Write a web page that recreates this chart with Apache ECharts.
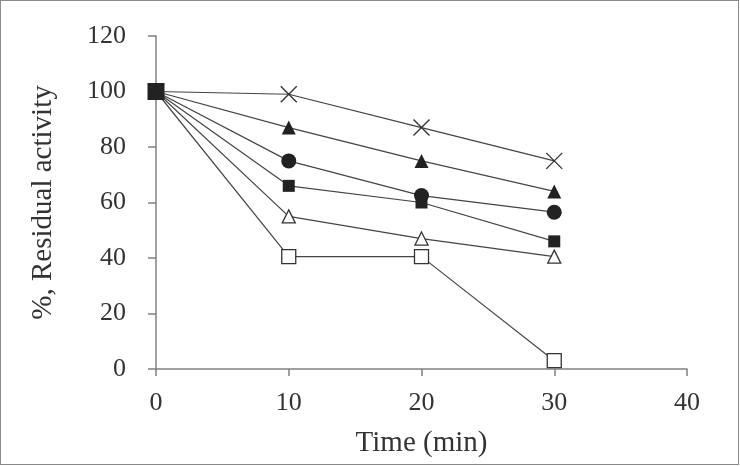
<!DOCTYPE html>
<html>
<head>
    <meta charset="utf-8">
    <title>Residual activity</title>
    <script src="https://cdn.jsdelivr.net/npm/echarts@6/dist/echarts.min.js"></script>
    <style>
        html, body { margin: 0; padding: 0; background: #fff; }
        #main { width: 737px; height: 463px; border: 1.5px solid #8a8a8a; }
    </style>
</head>
<body>
    <div id="main"></div>
    <script type="text/javascript">
        // time points (min)
        var times = [0, 10, 20, 30];
        // residual activity (%) for each curve
        var crossVals = [100, 99, 87, 75];
        var triFilledVals = [100, 87, 75, 64];
        var circleVals = [100, 75, 62.5, 56.5];
        var squareFilledVals = [100, 66, 60, 46];
        var triOpenVals = [100, 55, 47, 40.5];
        var squareOpenVals = [100, 40.5, 40.5, 3];

        function pts(vals) {
            return times.map(function (t, i) { return [t, vals[i]]; });
        }

        var lineStyle = { color: '#444', width: 1.2 };
        var fill = '#222';
        var font = 'Liberation Serif';

        var myChart = echarts.init(document.getElementById('main'));

        var option = {
            animation: false,
            grid: { left: 155, right: 51, top: 35, bottom: 95 },
            xAxis: {
                type: 'value', min: 0, max: 40, interval: 10,
                name: 'Time (min)', nameLocation: 'middle', nameGap: 60,
                nameTextStyle: { fontFamily: font, fontSize: 29, color: '#333' },
                axisLine: { lineStyle: { color: '#808080', width: 1.5 } },
                axisTick: { show: true, length: 7, lineStyle: { color: '#808080', width: 1.5 } },
                axisLabel: { fontFamily: font, fontSize: 26, color: '#333', margin: 21 },
                splitLine: { show: false }
            },
            yAxis: {
                type: 'value', min: 0, max: 120, interval: 20,
                name: '%, Residual activity', nameLocation: 'middle', nameGap: 98,
                nameTextStyle: { fontFamily: font, fontSize: 29, color: '#333' },
                axisLine: { show: true, lineStyle: { color: '#808080', width: 1.5 } },
                axisTick: { show: true, length: 8, lineStyle: { color: '#808080', width: 1.5 } },
                axisLabel: { fontFamily: font, fontSize: 26, color: '#333', margin: 30 },
                splitLine: { show: false }
            },
            series: [
                {
                    type: 'line', data: pts(crossVals), lineStyle: lineStyle,
                    symbol: 'path://M0,0 L10,10 M10,0 L0,10', symbolSize: 16,
                    itemStyle: { color: 'none', borderColor: '#333', borderWidth: 1.4 }, z: 2
                },
                {
                    type: 'line', data: pts(triFilledVals), lineStyle: lineStyle,
                    symbol: 'triangle', symbolSize: 14,
                    itemStyle: { color: fill, borderColor: fill, borderWidth: 0 }, z: 2
                },
                {
                    type: 'line', data: pts(circleVals), lineStyle: lineStyle,
                    symbol: 'circle', symbolSize: 15,
                    itemStyle: { color: fill, borderColor: fill, borderWidth: 0 }, z: 2
                },
                {
                    type: 'line', data: pts(triOpenVals), lineStyle: lineStyle,
                    symbol: 'triangle', symbolSize: 13,
                    itemStyle: { color: '#fff', borderColor: '#333', borderWidth: 1.3 }, z: 2
                },
                {
                    type: 'line', data: pts(squareOpenVals), lineStyle: lineStyle,
                    symbol: 'rect', symbolSize: 14,
                    itemStyle: { color: '#fff', borderColor: '#333', borderWidth: 1.3 }, z: 2
                },
                {
                    type: 'line', data: pts(squareFilledVals), lineStyle: lineStyle,
                    symbol: 'rect',
                    symbolSize: function (v, p) { return p.dataIndex === 0 ? 17 : 12; },
                    itemStyle: { color: fill, borderColor: fill, borderWidth: 0 }, z: 3
                }
            ]
        };
        myChart.setOption(option);
    </script>
</body>
</html>
